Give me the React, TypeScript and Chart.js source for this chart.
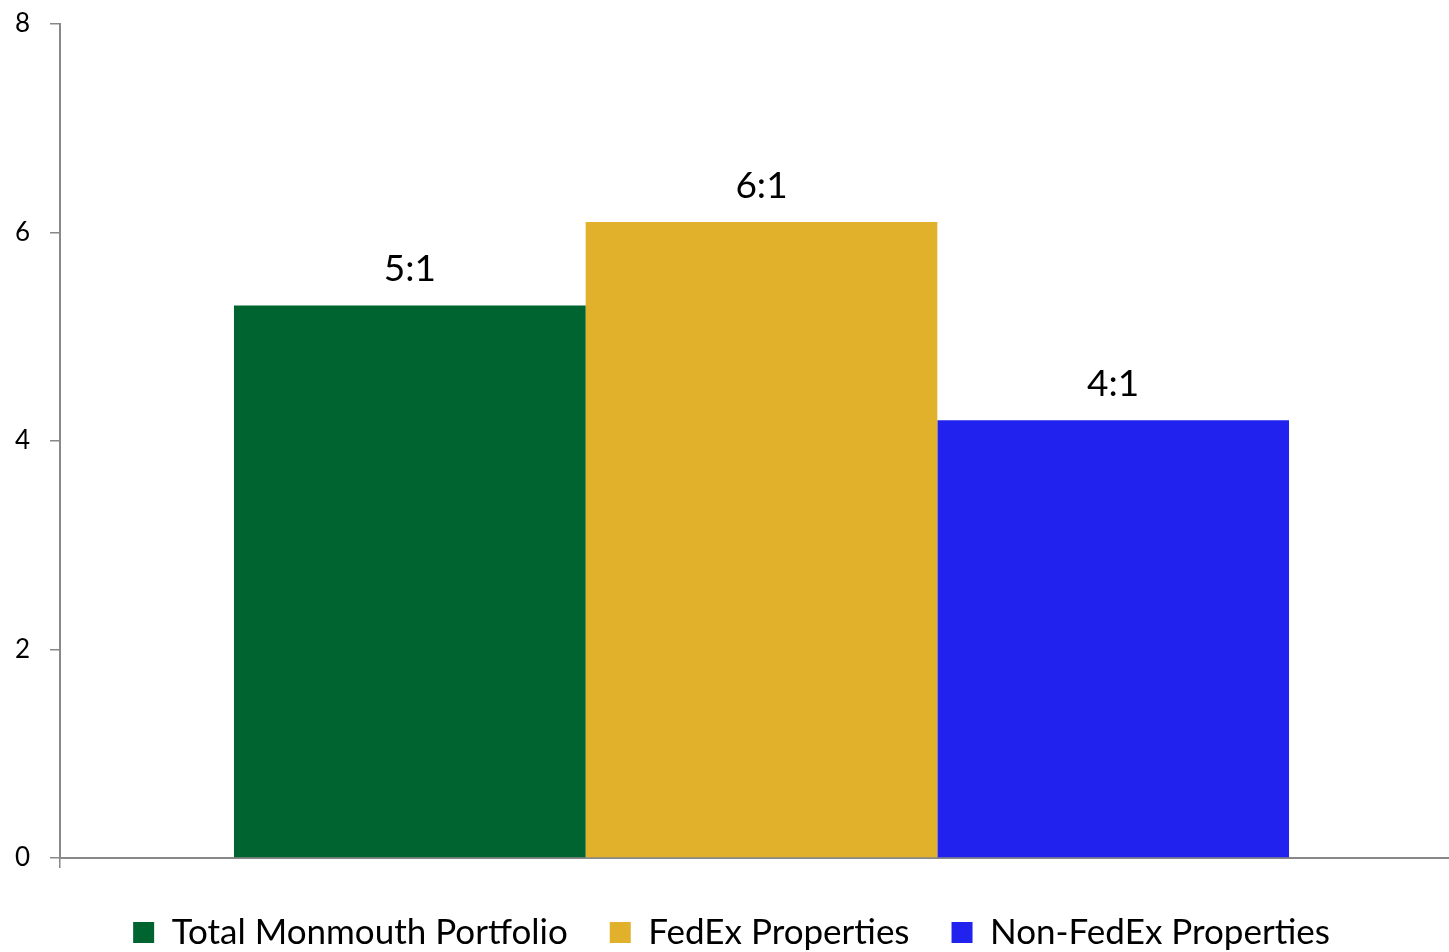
import React, { useEffect, useRef } from "react";
import { Chart, registerables } from "chart.js";

Chart.register(...registerables);

const categories = [""];
const seriesNames = ["Total Monmouth Portfolio", "FedEx Properties", "Non-FedEx Properties"];
const seriesValues = [5.3, 6.1, 4.2];
const seriesLabels = ["5:1", "6:1", "4:1"];
const seriesColors = ["#006430", "#E1B12C", "#2222EE"];
const yTicks = [0, 2, 4, 6, 8];

const FONT = "Lato, 'Open Sans', sans-serif";

const dataLabelPlugin = {
  id: "dataLabels",
  afterDatasetsDraw(chart: any) {
    const ctx = chart.ctx;
    ctx.save();
    ctx.fillStyle = "#000";
    ctx.font = `37px ${FONT}`;
    ctx.textAlign = "center";
    ctx.textBaseline = "alphabetic";
    chart.data.datasets.forEach((ds: any, i: number) => {
      const meta = chart.getDatasetMeta(i);
      meta.data.forEach((bar: any) => {
        ctx.fillText(seriesLabels[i], bar.x, bar.y - 24);
      });
    });
    ctx.restore();
  },
};

export default function App() {
  const ref = useRef<HTMLCanvasElement>(null);
  useEffect(() => {
    if (!ref.current) return;
    const chart = new Chart(ref.current, {
      type: "bar",
      data: {
        labels: categories,
        datasets: seriesNames.map((name, i) => ({
          label: name,
          data: [seriesValues[i]],
          backgroundColor: seriesColors[i],
          borderWidth: 0,
          categoryPercentage: 0.752,
          barPercentage: 1,
        })),
      },
      options: {
        animation: false,
        responsive: false,
        maintainAspectRatio: false,
        layout: { padding: { top: 24, right: 0, left: 0, bottom: -8 } },
        plugins: {
          legend: {
            position: "bottom",
            labels: {
              font: { family: FONT, size: 35 },
              color: "#000",
              boxWidth: 21,
              boxHeight: 21,
              padding: 42,
            },
          },
          tooltip: { enabled: false },
        },
        scales: {
          x: {
            grid: {
              display: true,
              drawOnChartArea: false,
              drawTicks: true,
              tickLength: 10,
              color: "#888",
              lineWidth: 1.5,
              offset: true,
            },
            border: { color: "#888", width: 2 },
            ticks: { display: false },
            afterFit(scale: any) {
              scale.height = 15;
            },
          },
          y: {
            min: 0,
            max: 8,
            afterBuildTicks(scale: any) {
              scale.ticks = yTicks.map((v) => ({ value: v }));
            },
            grid: {
              display: true,
              drawOnChartArea: false,
              drawTicks: true,
              tickLength: 10,
              color: "#888",
              lineWidth: 1.5,
            },
            border: { color: "#888", width: 2 },
            ticks: {
              color: "#000",
              font: { family: FONT, size: 26 },
              padding: 20,
            },
            afterFit(scale: any) {
              scale.width = 60;
              scale.paddingTop = 0;
              scale.paddingBottom = 0;
            },
          },
        },
      },
      plugins: [dataLabelPlugin],
    });
    return () => chart.destroy();
  }, []);
  return (
    <div style={{ position: "fixed", left: 0, top: 0, width: 1449, height: 952, overflow: "hidden", background: "#fff" }}>
      <canvas ref={ref} width={1463} height={952} style={{ width: 1463, height: 952, display: "block" }} />
    </div>
  );
}
